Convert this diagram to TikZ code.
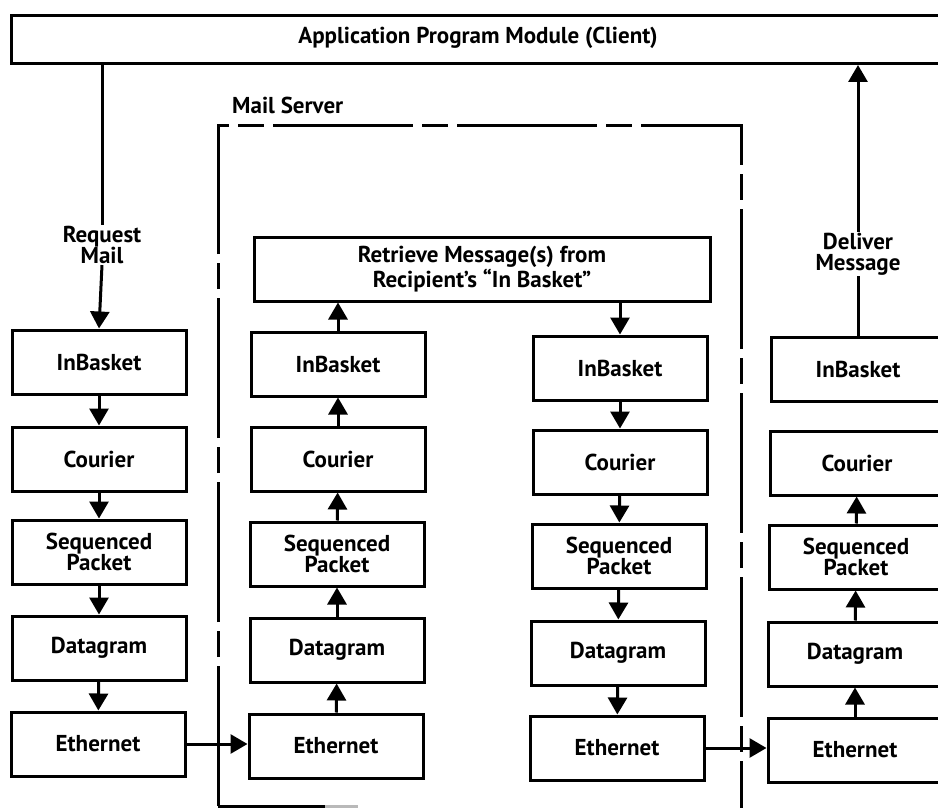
\documentclass[tikz,border=0pt]{standalone}
\usepackage{fontspec}
\setmainfont{PT Sans}
\usetikzlibrary{arrows.meta}
\begin{document}
\begin{tikzpicture}[x=1pt,y=-1pt,
  every node/.style={font=\fontsize{23}{21}\selectfont\bfseries},
  layer/.style={draw,line width=3pt,minimum width=174pt,minimum height=64pt,inner sep=0pt,align=center},
  lbl/.style={align=center,inner sep=1pt},
  conn/.style={line width=3pt},
  arr/.style={line width=3pt,-{Triangle[width=19pt,length=17pt]}},
  srv/.style={line width=3pt,dash pattern=on 140pt off 9pt on 26pt off 9pt}]
\clip (0,0) rectangle (938,808);
\fill[white] (0,0) rectangle (938,808);
% top bar
\node[draw,line width=3pt,minimum width=940pt,minimum height=48pt,inner sep=0pt,anchor=north west] (app) at (10,14) {};
\node (apptxt) at (478,38) {Application Program Module (Client)};
% mail server
\node[anchor=west,lbl] (ms) at (231,105) {Mail Server};
\draw[srv] (218,806) -- (218,125) -- (741,125) -- (741,812);
\draw[line width=3pt] (218,806) -- (325,806);
\draw[line width=3pt,gray!55] (325,806) -- (358,806);
% column 1
\node[layer] (ib1) at (99,362) {InBasket};
\node[layer] (co1) at (99,459) {Courier};
\node[layer] (sp1) at (99,552) {Sequenced\\Packet};
\node[layer] (dg1) at (99,648) {Datagram};
\node[layer] (et1) at (98,744) {Ethernet};
% column 2
\node[draw,line width=3pt,minimum width=456pt,minimum height=64pt,inner sep=0pt,align=center] (ret) at (482,269) {Retrieve Message(s) from\\Recipient's ``In Basket''};
\node[layer] (ib2) at (338,364) {InBasket};
\node[layer] (co2) at (338,459) {Courier};
\node[layer] (sp2) at (337,554) {Sequenced\\Packet};
\node[layer] (dg2) at (337,650) {Datagram};
\node[layer] (et2) at (336,746) {Ethernet};
% column 3
\node[layer] (ib3) at (620,368) {InBasket};
\node[layer] (co3) at (620,462) {Courier};
\node[layer] (sp3) at (619,556) {Sequenced\\Packet};
\node[layer] (dg3) at (618,653) {Datagram};
\node[layer] (et3) at (617,748) {Ethernet};
% column 4
\node[layer] (ib4) at (858,369) {InBasket};
\node[layer] (co4) at (857,463) {Courier};
\node[layer] (sp4) at (856,557) {Sequenced\\Packet};
\node[layer] (dg4) at (855,654) {Datagram};
\node[layer] (et4) at (855,750) {Ethernet};
% labels
\node[lbl] (req) at (102,245) {Request\\Mail};
\node[lbl] (del) at (858,254) {Deliver\\Message};
% connectors column 1
\draw[conn] (app.south -| req) -- (req.north);
\draw[arr] (req.south) -- (ib1.north);
\draw[arr] (ib1) -- (co1);
\draw[arr] (co1) -- (sp1);
\draw[arr] (sp1) -- (dg1);
\draw[arr] (dg1) -- (et1);
\draw[arr] (et1.east) -- (et1.east -| et2.west);
% column 2 up
\draw[arr] (et2) -- (dg2);
\draw[arr] (dg2) -- (sp2);
\draw[arr] (sp2) -- (co2);
\draw[arr] (co2) -- (ib2);
\draw[arr] (ib2.north) -- (ib2.north |- ret.south);
% column 3 down
\draw[arr] (ret.south -| ib3) -- (ib3.north);
\draw[arr] (ib3) -- (co3);
\draw[arr] (co3) -- (sp3);
\draw[arr] (sp3) -- (dg3);
\draw[arr] (dg3) -- (et3);
\draw[arr] (et3.east) -- (et3.east -| et4.west);
% column 4 up
\draw[arr] (et4) -- (dg4);
\draw[arr] (dg4) -- (sp4);
\draw[arr] (sp4) -- (co4);
\draw[conn] (ib4.north -| del) -- (del.south);
\draw[arr] (del.north) -- (del.north |- app.south);
\end{tikzpicture}
\end{document}
